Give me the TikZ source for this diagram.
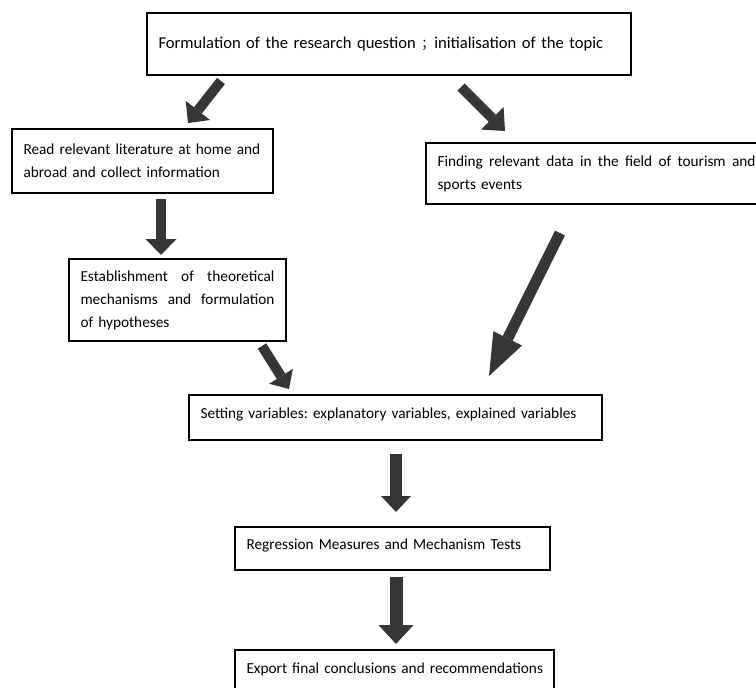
\documentclass[tikz,border=0pt]{standalone}
\usepackage{fontspec}
\setmainfont{Carlito}
\newfontfamily\cjk{Noto Sans CJK SC}
\usetikzlibrary{positioning,calc,arrows.meta}
\definecolor{arrowgray}{RGB}{54,54,54}
\newcommand{\fillline}[1]{\makebox[\hsize][s]{\spaceskip=0.23em plus 1fil\relax #1}}
\tikzset{
stage/.style={draw, line width=1.6pt, anchor=north west, outer sep=0pt,
    inner xsep=11.5pt, inner ysep=0pt, align=left,
    font=\fontsize{15.3}{23}\selectfont\frenchspacing},
single/.style={text height=11pt, text depth=10pt},
bigarrow/.style={draw=arrowgray, line width=10pt,
    -{Triangle[width=31pt,length=16pt,line width=0pt]}}
}

\begin{document}
\begin{tikzpicture}[x=1pt,y=-1pt]
\useasboundingbox (0,0) rectangle (756,688);
\clip (0,0) rectangle (756,688);

\node[stage, text width=461pt, minimum height=62pt, font=\fontsize{16.6}{23}\selectfont] (topic) at (147,13)
  {Formulation of the research question {\cjk\fontsize{13}{13}\selectfont ；}initialisation of the topic};
\node[stage, text width=238pt, minimum height=64pt] (lit) at (12,129)
  {Read relevant literature at home and\\abroad and collect information};
\node[stage, text width=318pt, minimum height=61pt] (data) at (426,143)
  {\fillline{Finding relevant data in the field of tourism and}\\sports events};
\node[stage, text width=194pt, minimum height=82pt] (theory) at (69,259)
  {\fillline{Establishment of theoretical}\\\fillline{mechanisms and formulation}\\of hypotheses};
\node[stage, single, text width=390pt, minimum height=45pt] (vars) at (189,395)
  {Setting variables: explanatory variables, explained variables};
\node[stage, single, text width=292pt, minimum height=43pt] (regr) at (235,527)
  {Regression Measures and Mechanism Tests};
\node[stage, single, text width=296pt, minimum height=45pt] (export) at (235,650)
  {\mbox{Export final conclusions and recommendations}};

\draw[bigarrow] ($(topic.south west)+(74,6)$) -- ($(lit.north west)+(176,-6)$);
\draw[bigarrow, -{Triangle[width=32pt,length=18pt,line width=0pt]}]
  ($(topic.south west)+(314,12)$) -- ($(data.north west)+(79,-12)$);
\draw[bigarrow] ($(lit.south west)+(149,6)$) -- ($(theory.north west)+(92,-4)$);
\draw[bigarrow, -{Triangle[width=28pt,length=15pt,line width=0pt]}]
  ($(theory.south west)+(193,5)$) -- ($(vars.north west)+(100,-6)$);
\draw[bigarrow, line width=11pt, -{Triangle[width=32pt,length=42pt,line width=0pt]}]
  ($(data.south west)+(134,29)$) -- ($(vars.north west)+(300,-19)$);
\draw[bigarrow, line width=12pt, -{Triangle[width=30pt,length=16pt,line width=0pt]}]
  ($(vars.south west)+(207,14)$) -- ($(regr.north west)+(161,-15)$);
\draw[bigarrow, line width=13pt, -{Triangle[width=35pt,length=19pt,line width=0pt]}]
  ($(regr.south west)+(161,7)$) -- ($(export.north west)+(161,-6)$);
\end{tikzpicture}
\end{document}
